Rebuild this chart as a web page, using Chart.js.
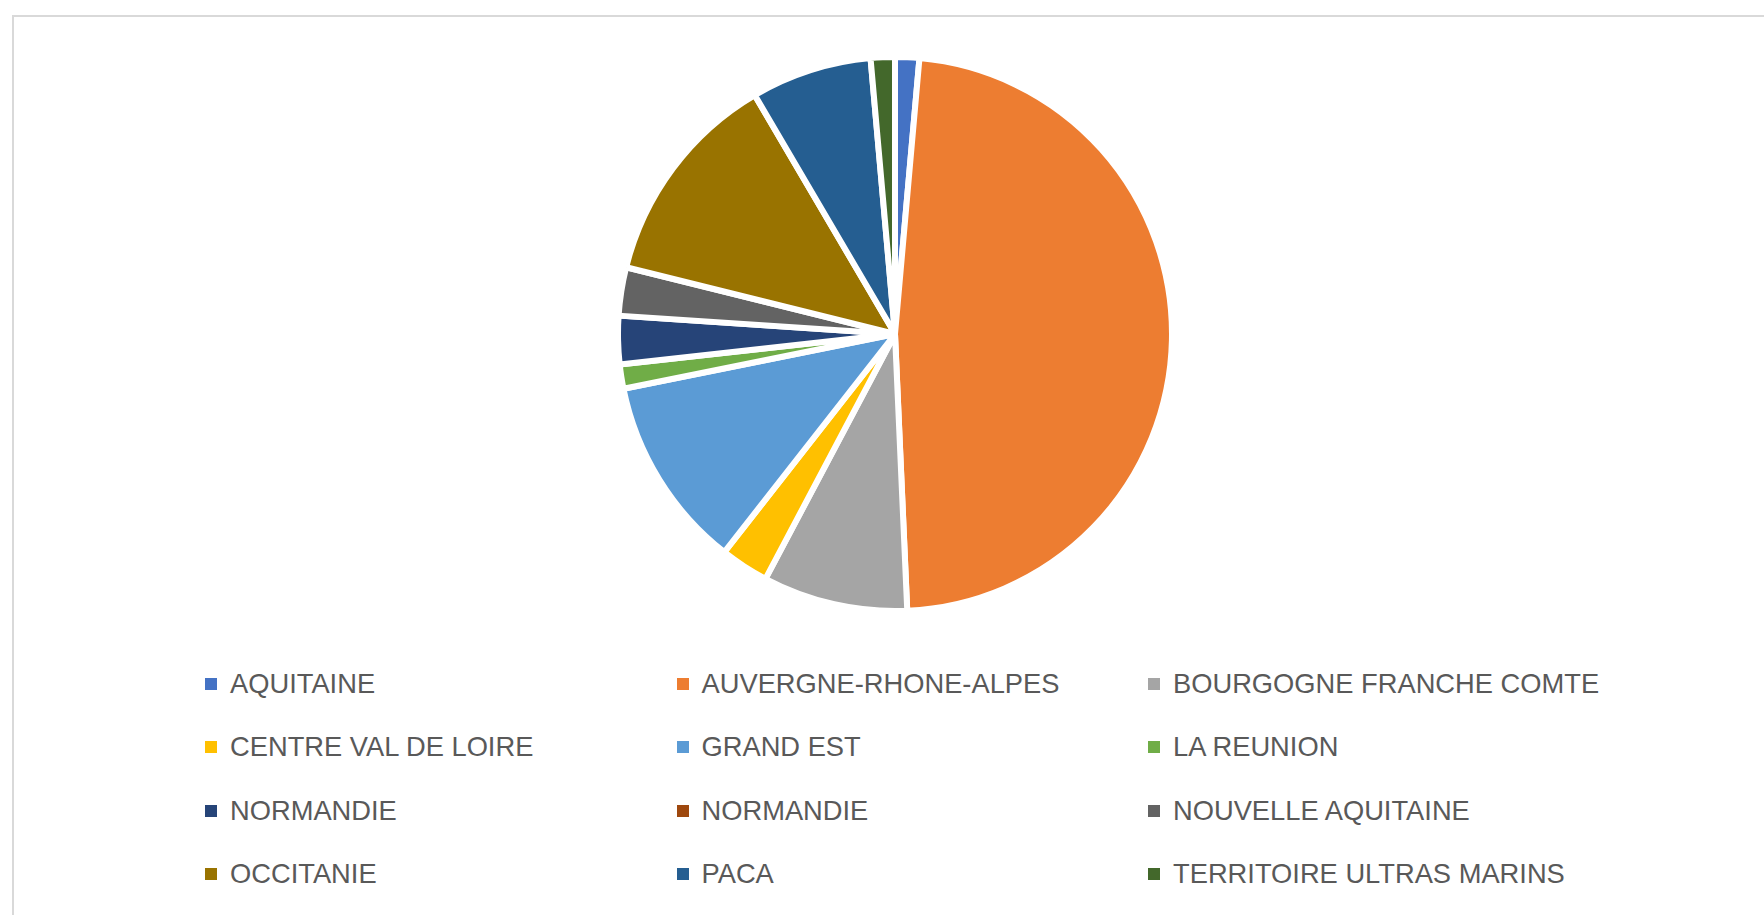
<!DOCTYPE html>
<html>
<head>
<meta charset="utf-8">
<script src="https://cdn.jsdelivr.net/npm/chart.js@4"></script>
<style>
  body { margin: 0; background: #fff; width: 1764px; height: 915px; overflow: hidden; position: relative; }
  #frame { position: absolute; left: 12px; top: 15px; width: 1800px; height: 1000px; border: 2px solid #d9d9d9; }
  #pie-box { position: absolute; left: 615px; top: 54px; width: 560px; height: 560px; }
  #legend {
    position: absolute; left: 205px; top: 652px;
    display: grid; grid-template-columns: 471.5px 471.5px 471.5px; grid-auto-rows: 63.5px;
    font-family: "Liberation Sans", Arial, sans-serif; font-size: 27.3px; color: #595959;
  }
  .item { display: flex; align-items: center; white-space: nowrap; }
  .box { width: 12px; height: 12px; margin-right: 13px; flex: none; }
</style>
</head>
<body>
<div id="frame"></div>
<div id="pie-box"><canvas id="chart"></canvas></div>
<div id="legend"></div>
<script>
// regions and counts
const regions = [
  "AQUITAINE", "AUVERGNE-RHONE-ALPES", "BOURGOGNE FRANCHE COMTE",
  "CENTRE VAL DE LOIRE", "GRAND EST", "LA REUNION",
  "NORMANDIE", "NORMANDIE", "NOUVELLE AQUITAINE",
  "OCCITANIE", "PACA", "TERRITOIRE ULTRAS MARINS"
]
const counts = [1, 34, 6, 2, 8, 1, 2, 0, 2, 9, 5, 1]
const colors = [
  "#4472C4", "#ED7D31", "#A5A5A5",
  "#FFC000", "#5B9BD5", "#70AD47",
  "#264478", "#9E480E", "#636363",
  "#997300", "#255E91", "#43682B"
]

const ctx = document.getElementById('chart').getContext('2d')
const myChart = new Chart(ctx, {
  type: 'pie',
  data: {
    labels: regions,
    datasets: [{
      data: counts,
      backgroundColor: colors,
      borderColor: '#ffffff',
      borderWidth: 6,
      hoverOffset: 0
    }]
  },
  options: {
    responsive: true,
    maintainAspectRatio: false,
    animation: false,
    layout: { padding: 0 },
    plugins: {
      legend: { display: false },
      tooltip: { enabled: false }
    }
  }
})

// legend laid out as a 3 column grid, like the original
const legend = document.getElementById('legend')
myChart.data.labels.forEach((label, i) => {
  legend.innerHTML += `
    <div class="item">
      <span class="box" style="background:${myChart.data.datasets[0].backgroundColor[i]}"></span>
      <span>${label}</span>
    </div>`
})
</script>
</body>
</html>
